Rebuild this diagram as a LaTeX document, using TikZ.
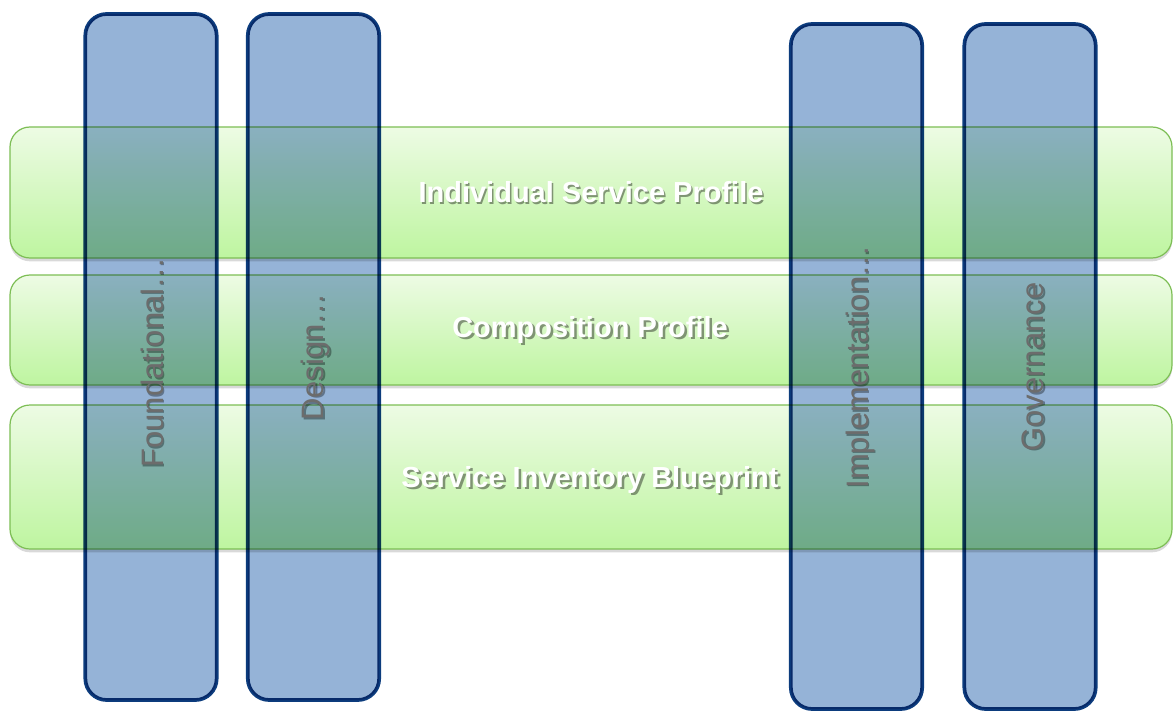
\documentclass[tikz,border=0pt]{standalone}
\usepackage{fontspec}
\setmainfont{Liberation Sans}
\usepackage{xcolor}
\usepackage{tikz}
\usetikzlibrary{positioning,shadows}
\definecolor{rowtop}{RGB}{237,251,228}
\definecolor{rowbot}{RGB}{190,245,160}
\definecolor{rowline}{RGB}{125,190,85}
\definecolor{colfill}{RGB}{149,179,215}
\definecolor{colline}{RGB}{12,60,125}
\definecolor{colgrey}{RGB}{108,108,108}
\tikzset{
	row/.style={rectangle, rounded corners=15pt, draw=rowline, line width=0.9pt,
		top color=rowtop, bottom color=rowbot, minimum width=871.5pt,
		drop shadow={opacity=0.3, shadow xshift=0pt, shadow yshift=-2.5pt}},
	column/.style={rectangle, rounded corners=16pt, draw=colline, line width=2.8pt,
		fill=colfill, minimum width=98.5pt},
	rowtext/.style={font=\bfseries\fontsize{21.75}{26}\selectfont, text=white},
	rowshade/.style={rowtext, text=black, opacity=0.4},
	coltext/.style={font=\fontsize{23.25}{28}\selectfont, text=colgrey, rotate=90},
	colshade/.style={coltext, text=black, opacity=0.35},
}

\begin{document}
\begin{tikzpicture}[x=0.75pt, y=-0.75pt]
	\useasboundingbox (0,0) rectangle (1176,720);

	% the three profiles
	\node[row, minimum height=98.25pt] (isp) at (591,192.5) {};
	\node[row, minimum height=82.5pt] (cp) at (591,330) {};
	\node[row, minimum height=108pt] (sib) at (591,477) {};

	% the four columns lie over them
	\begin{scope}[blend mode=multiply]
		\node[column, minimum height=514.5pt] (found) at (151,357) {};
		\node[column, minimum height=514.5pt] (design) at (313.5,357) {};
		\node[column, minimum height=513.75pt] (impl) at (856.5,366.5) {};
		\node[column, minimum height=513.75pt] (gov) at (1030,366.5) {};
	\end{scope}

	% row labels
	\node[rowshade] (isp-sh) at (592.5,194) {Individual Service Profile};
	\node[rowtext] (isp-t) at (isp) {Individual Service Profile};
	\node[rowshade] (cp-sh) at (592.5,331.5) {Composition Profile};
	\node[rowtext] (cp-t) at (590,330) {Composition Profile};
	\node[rowshade] (sib-sh) at (592.5,481.5) {Service Inventory Blueprint};
	\node[rowtext] (sib-t) at (590,480) {Service Inventory Blueprint};

	% column labels
	\node[colshade] (found-sh) at (153.5,364) {Foundational\ldots};
	\node[coltext] (found-t) at (152,362.5) {Foundational\ldots};
	\node[colshade] (design-sh) at (317,358.5) {Design\ldots};
	\node[coltext] (design-t) at (315.5,357) {Design\ldots};
	\node[colshade] (impl-sh) at (861.5,368.5) {Implementation\ldots};
	\node[coltext] (impl-t) at (860,367) {Implementation\ldots};
	\node[colshade] (gov-sh) at (1034.5,368.5) {Governance};
	\node[coltext] (gov-t) at (1033,367) {Governance};
\end{tikzpicture}
\end{document}
